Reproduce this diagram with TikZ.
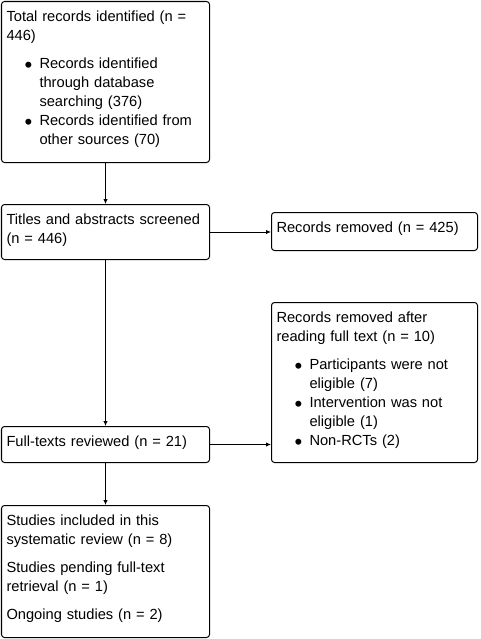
\documentclass[tikz,border=0pt]{standalone}
\usepackage{fontspec}
\usepackage{graphicx}
\setmainfont{Liberation Sans}
\usetikzlibrary{arrows.meta}

\newcommand*\mainwidth{148.5pt}
\newcommand*\sidewidth{147pt}
\newcommand*\bitem{\makebox[24.75pt][r]{\raisebox{-2.8pt}{\scalebox{1.5}{\textbullet}}\hspace{5.35pt}}}
\newcommand*\bcont{\makebox[24.75pt]{}}
\tikzset{stagebox/.style 2 args={
    draw,
    line width=0.75pt,
    rectangle,
    rounded corners=2.25pt,
    anchor=north west,
    inner xsep=3.75pt,
    inner ysep=0pt,
    text width=#1,
    text height=15pt,
    text depth=#2,
    align=left,
    font=\fontsize{11pt}{14.25pt}\selectfont
},
flow/.style={
    -{Latex[length=3.75pt,width=3.4pt]},
    line width=0.75pt
}}

\begin{document}
\begin{tikzpicture}[x=0.75pt,y=-0.75pt]
    \useasboundingbox (0,0) rectangle (481,639);

    % Left column, top to bottom.
    \node[stagebox={\mainwidth}{105.75pt}] (total) at (1,1)
        {Total records identified (n =\\ 446)\\[6.75pt]
         \bitem Records identified\\ \bcont through database\\
         \bcont searching (376)\\ \bitem Records identified from\\
         \bcont other sources (70)};
    \node[stagebox={\mainwidth}{26.25pt}] (screened) at (1,204)
        {Titles and abstracts screened\\ (n = 446)};
    \node[stagebox={\mainwidth}{12pt}] (fulltext) at (1,426)
        {Full-texts reviewed (n = 21)};
    \node[stagebox={\mainwidth}{84pt}] (included) at (1,505)
        {Studies included in this\\ systematic review (n = 8)\\[6.75pt]
         Studies pending full-text\\ retrieval (n = 1)\\[6.75pt]
         Ongoing studies (n = 2)};

    % Right column.
    \node[stagebox={\sidewidth}{13.5pt}] (removed) at (271,212)
        {Records removed (n = 425)};
    \node[stagebox={\sidewidth}{105pt}] (excluded) at (271,302)
        {Records removed after\\ reading full text (n = 10)\\[6.75pt]
         \bitem Participants were not\\ \bcont eligible (7)\\
         \bitem Intervention was not\\ \bcont eligible (1)\\
         \bitem Non-RCTs (2)};

    % Connectors.
    \draw[flow] (total) -- (screened);
    \draw[flow] (screened.east) -- (screened.east -| removed.west);
    \draw[flow] (screened) -- (fulltext);
    \draw[flow] (fulltext.east) -- (fulltext.east -| excluded.west);
    \draw[flow] (fulltext) -- (included);

\end{tikzpicture}
\end{document}
